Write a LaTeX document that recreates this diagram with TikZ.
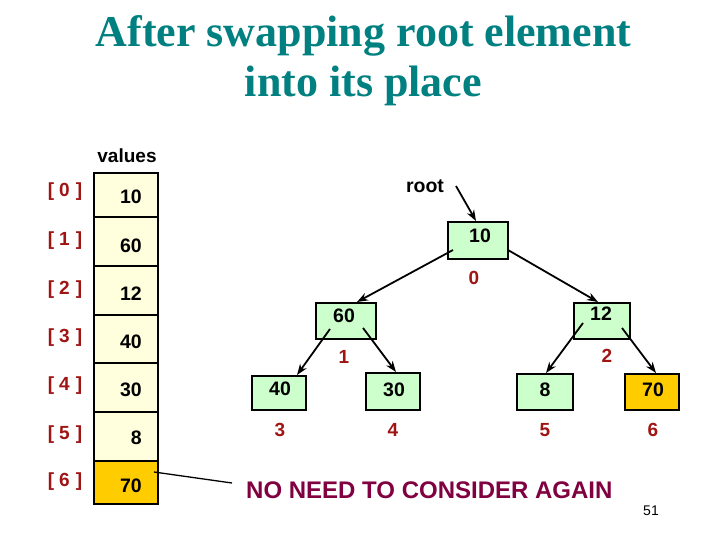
\documentclass[tikz,border=0pt]{standalone}
\usepackage{fontspec}
\setmainfont{Liberation Sans}
\newfontfamily\titlefont{Liberation Serif}
\usetikzlibrary{arrows.meta,calc}
\definecolor{titlecol}{RGB}{0,128,128}
\definecolor{idxred}{RGB}{160,20,20}
\definecolor{notecol}{RGB}{128,0,64}
\definecolor{cellfill}{RGB}{255,255,221}
\definecolor{goldfill}{RGB}{255,204,0}
\definecolor{greenfill}{RGB}{204,255,204}
\tikzset{
  cell/.style={draw=black, line width=2pt, fill=cellfill, minimum width=64pt, inner sep=0pt},
  tbox/.style={draw=black, line width=2pt, fill=greenfill, minimum width=56pt, minimum height=36pt, inner sep=0pt},
  numtxt/.style={font=\fontsize{19.5}{22}\selectfont\bfseries, inner sep=0pt},
  idxtxt/.style={font=\fontsize{19}{22}\selectfont\bfseries, text=idxred, inner sep=0pt},
  conn/.style={line width=1.8pt, -{Stealth[length=11pt,width=8pt]}},
}
\begin{document}
\begin{tikzpicture}[x=1pt,y=-1pt]
\useasboundingbox[fill=white] (0,0) rectangle (720,540);
% title
\node[font=\titlefont\fontsize{44}{50}\selectfont\bfseries, text=titlecol, align=center] (title) at (363.5,61) {After swapping root element\\into its place};
% array
\node[numtxt, font=\fontsize{19}{22}\selectfont\bfseries] (values) at (127,156) {values};
\node[cell, minimum height=44pt] (c0) at (126,195) {};
\node[cell, minimum height=49pt] (c1) at (126,241.5) {};
\node[cell, minimum height=49pt] (c2) at (126,290.5) {};
\node[cell, minimum height=48pt] (c3) at (126,339) {};
\node[cell, minimum height=49pt] (c4) at (126,387.5) {};
\node[cell, minimum height=49pt] (c5) at (126,436.5) {};
\node[cell, minimum height=43pt, fill=goldfill] (c6) at (126,482.5) {};
\foreach \i/\v/\y in {0/10/197,1/60/246,2/12/294,3/40/342,4/30/390,5/8/438,6/70/486}{
  \node[numtxt, anchor=east] (v\i) at (142,\y) {\v};
}
\foreach \i/\y in {0/192,1/241,2/290,3/338,4/386,5/435,6/482}{
  \node[idxtxt] (i\i) at (65,\y) {[\hspace{5pt}\i\hspace{6pt}]};
}
% tree
\node[tbox, minimum width=60pt, minimum height=37pt] (n10) at (478,240.5) {};
\node[tbox, minimum width=60pt] (n60) at (346,321) {};
\node[tbox] (n12) at (602,321) {};
\node[tbox, minimum width=54pt, minimum height=34pt] (n40) at (279,393) {};
\node[tbox, minimum width=54pt, minimum height=37pt] (n30) at (393,391.5) {};
\node[tbox] (n8) at (545,392) {};
\node[tbox, minimum width=54pt, fill=goldfill] (n70) at (652,392) {};
\node[numtxt] (t10) at (480,236) {10};
\node[numtxt] (t60) at (344,316) {60};
\node[numtxt] (t12) at (601,314) {12};
\node[numtxt] (t40) at (280,389) {40};
\node[numtxt] (t30) at (394,390) {30};
\node[numtxt] (t8) at (545,390) {8};
\node[numtxt] (t70) at (653,390) {70};
\node[idxtxt] (l0) at (474,278) {0};
\node[idxtxt] (l1) at (344,357) {1};
\node[idxtxt] (l2) at (607,356) {2};
\node[idxtxt] (l3) at (280,430) {3};
\node[idxtxt] (l4) at (393,430) {4};
\node[idxtxt] (l5) at (545,430) {5};
\node[idxtxt] (l6) at (653,430) {6};
% root pointer
\node[numtxt] (root) at (425,186) {root};
\coordinate (rootstart) at (456,186);
\draw[conn] (rootstart) -- ($(n10.north)+(-2,0)$);
% edges
\draw[conn] ($(n10.center)+(-25,9.5)$) -- ($(n60.north)+(11,0)$);
\draw[conn] ($(n10.center)+(30,9.5)$) -- ($(n12.north)+(-4,0)$);
\draw[conn] ($(n60.center)+(-16,8)$) -- ($(n40.north)+(18,0)$);
\draw[conn] ($(n60.center)+(17,7)$) -- ($(n30.north)+(3,0)$);
\draw[conn] ($(n12.center)+(-19,2)$) -- ($(n8.north)+(1,0)$);
\draw[conn] ($(n12.center)+(20,7)$) -- ($(n70.north)+(4,0)$);
% note
\node[font=\fontsize{24}{27}\selectfont\bfseries, text=notecol, anchor=west, inner sep=0pt] (note) at (246,490) {NO NEED TO CONSIDER AGAIN};
\coordinate (noteend) at (232,483);
\draw[line width=1.3pt] ($(c6.east)+(-5,-10.5)$) -- (noteend);
\node[font=\fontsize{14}{16}\selectfont, inner sep=0pt] (page) at (651,511) {51};
\end{tikzpicture}
\end{document}
